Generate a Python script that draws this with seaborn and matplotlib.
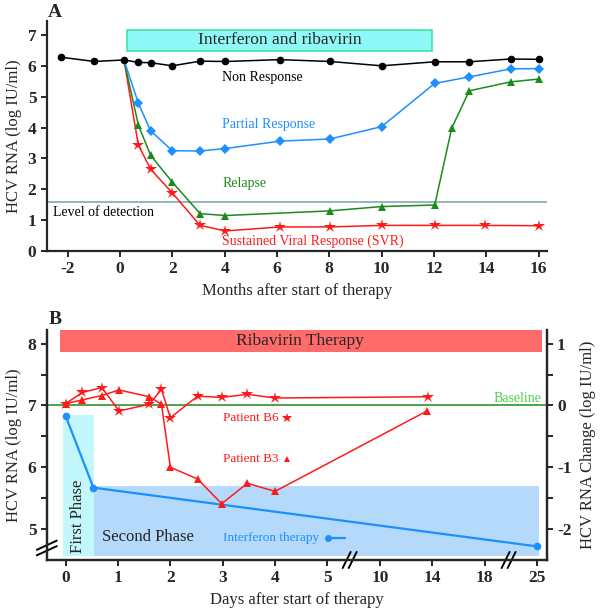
import numpy as np
import matplotlib
matplotlib.use("Agg")
import matplotlib.pyplot as plt
import seaborn as sns

# ---- Panel A data (months after start, log IU/ml) ----
nr_x = [-2.27, -0.98, 0.15, 0.7, 1.17, 2.0, 3.06, 4.03, 6.12, 8.03, 10.0, 12.03, 13.35, 14.93, 16.0]
nr_y = [6.28, 6.14, 6.19, 6.11, 6.10, 6.00, 6.15, 6.14, 6.20, 6.14, 6.00, 6.13, 6.13, 6.22, 6.21]

pr_x = [0.15, 0.7, 1.17, 2.0, 3.06, 4.03, 6.12, 8.03, 10.0, 12.03, 13.35, 14.93, 16.0]
pr_y = [6.19, 4.79, 3.89, 3.25, 3.24, 3.32, 3.56, 3.63, 4.03, 5.43, 5.64, 5.90, 5.91]

rl_x = [0.15, 0.7, 1.17, 2.0, 3.06, 4.03, 8.03, 10.0, 12.03, 12.68, 13.35, 14.93, 16.0]
rl_y = [6.19, 4.08, 3.10, 2.23, 1.21, 1.15, 1.30, 1.44, 1.49, 3.98, 5.19, 5.48, 5.57]

svr_x = [0.15, 0.7, 1.17, 2.0, 3.06, 4.03, 6.12, 8.03, 10.0, 12.03, 13.97, 16.0]
svr_y = [6.19, 3.43, 2.65, 1.88, 0.83, 0.65, 0.78, 0.78, 0.83, 0.83, 0.83, 0.82]

detect_level = 1.59

# ---- Panel B data (days after start, log IU/ml) ----
b6_x = [0, 0.32, 0.69, 1.02, 1.6, 1.83, 2.0, 2.52, 2.98, 3.47, 4.0, 13.7]
b6_y = [7.03, 7.21, 7.29, 6.91, 7.02, 7.26, 6.80, 7.15, 7.13, 7.18, 7.12, 7.14]

b3_x = [0, 0.32, 0.69, 1.02, 1.6, 1.83, 2.0, 2.52, 2.98, 3.47, 4.0, 13.6]
b3_y = [7.03, 7.09, 7.16, 7.25, 7.14, 7.02, 6.00, 5.81, 5.41, 5.74, 5.61, 6.91]

ifn_x = [0, 0.53, 25]
ifn_y = [6.83, 5.67, 4.72]

baseline = 7.0

# broken day axis: 0..5 linear, then 10, 14, 18, 25 one step each
day_knots = [-5, 0, 5, 10, 14, 18, 25, 32]
pos_knots = [-5, 0, 5, 6, 7, 8, 9, 10]
day_ticks = [0, 1, 2, 3, 4, 5, 10, 14, 18, 25]

RED = "#ff1a1a"
BLUE = "#1e8fff"
GREEN = "#1b8c1b"

sns.set_theme(style="ticks")
plt.rcParams["font.family"] = ["Liberation Serif", "DejaVu Serif"]
plt.rcParams["axes.linewidth"] = 1.6
plt.rcParams["xtick.major.width"] = 1.4
plt.rcParams["ytick.major.width"] = 1.4
plt.rcParams["ytick.minor.width"] = 1.4
plt.rcParams["xtick.major.size"] = 4
plt.rcParams["ytick.major.size"] = 4
plt.rcParams["ytick.minor.size"] = 4

TICKFONT = dict(fontweight="bold", fontsize=12.5)

fig = plt.figure(figsize=(6, 6.1), dpi=100)

# ================= Panel A =================
axA = fig.add_axes([0.078, 0.5885, 0.834, 0.377])

sns.lineplot(x=nr_x, y=nr_y, ax=axA, color="black", marker="o", markersize=5.5,
             markeredgewidth=0, lw=1.1, estimator=None, sort=False, zorder=6)
sns.lineplot(x=pr_x, y=pr_y, ax=axA, color=BLUE, marker="D", markersize=5.5,
             markeredgewidth=0, lw=1.1, markevery=list(range(1, len(pr_x))),
             estimator=None, sort=False, zorder=5)
sns.lineplot(x=rl_x, y=rl_y, ax=axA, color=GREEN, marker="^", markersize=6,
             markeredgewidth=0, lw=1.1, markevery=list(range(1, len(rl_x))),
             estimator=None, sort=False, zorder=4)
sns.lineplot(x=svr_x, y=svr_y, ax=axA, color=RED, marker="*", markersize=9,
             markeredgewidth=0, lw=1.1, markevery=list(range(1, len(svr_x))),
             estimator=None, sort=False, zorder=3)

axA.axhline(detect_level, color="#7eaab2", lw=1.2, zorder=1)

axA.set_xlim(-2.8, 16.33)
axA.set_ylim(0, 7.45)
xt = list(range(-2, 17, 2))
axA.set_xticks(xt)
axA.set_xticklabels([str(v) for v in xt], **TICKFONT)
axA.set_yticks(range(0, 8))
axA.set_yticklabels([str(v) for v in range(0, 8)], **TICKFONT)
sns.despine(ax=axA)

axA.add_patch(plt.Rectangle((0.27, 6.48), 11.65, 0.69, facecolor="#8ef9f7",
                            edgecolor="#3fe3a8", lw=1.2, zorder=2))
axA.text(6.1, 6.83, "Interferon and ribavirin", ha="center", va="center", fontsize=12.5)

axA.text(3.9, 5.62, "Non Response", color="black", fontsize=10, va="center")
axA.text(3.9, 4.11, "Partial Response", color=BLUE, fontsize=10, va="center")
axA.text(3.9, 2.2, "Relapse", color=GREEN, fontsize=10, va="center")
axA.text(3.9, 0.32, "Sustained Viral Response (SVR)", color=RED, fontsize=10, va="center")
axA.text(-2.56, 1.26, "Level of detection", color="black", fontsize=10, va="center")

axA.set_xlabel("Months after start of therapy", fontsize=12)
axA.set_ylabel("HCV RNA (log IU/ml)", fontsize=12)
fig.text(0.092, 0.98, "A", fontsize=14, fontweight="bold", va="center", ha="center")

# ================= Panel B =================
axB = fig.add_axes([0.078, 0.082, 0.833, 0.377])
axB.set_xscale("function", functions=(lambda d: np.interp(d, day_knots, pos_knots),
                                      lambda p: np.interp(p, pos_knots, day_knots)))

axB.add_patch(plt.Rectangle((-0.11, 7.87), 25.81, 0.35, facecolor="#ff6b6b",
                            edgecolor="none", zorder=1))
axB.text(0.506, 8.045, "Ribavirin Therapy", ha="center", va="center", fontsize=12.5,
         transform=axB.get_yaxis_transform())
axB.add_patch(plt.Rectangle((-0.05, 4.56), 0.6, 2.28, facecolor="#c2f8fb",
                            edgecolor="none", zorder=1))
axB.add_patch(plt.Rectangle((0.55, 4.56), 24.8, 1.13, facecolor="#b4d9fb",
                            edgecolor="none", zorder=1))
axB.text(0.23, 5.2, "First Phase", rotation=90, ha="center", va="center", fontsize=12)
axB.text(0.7, 4.87, "Second Phase", ha="left", va="center", fontsize=12)

axB.axhline(baseline, color=GREEN, lw=1.1, zorder=2)
axB.text(25.6, 7.12, "Baseline", color="#4ad24a", ha="right", va="center", fontsize=10)

sns.lineplot(x=b3_x, y=b3_y, ax=axB, color=RED, marker="^", markersize=6,
             markeredgewidth=0, lw=1.1, estimator=None, sort=False, zorder=4)
sns.lineplot(x=b6_x, y=b6_y, ax=axB, color=RED, marker="*", markersize=9,
             markeredgewidth=0, lw=1.1, estimator=None, sort=False, zorder=5)
sns.lineplot(x=ifn_x, y=ifn_y, ax=axB, color=BLUE, marker="o", markersize=5.5,
             markeredgewidth=0, lw=1.6, estimator=None, sort=False, zorder=3)

axB.text(3.0, 6.8, "Patient B6", color=RED, fontsize=9.5, va="center")
axB.plot([4.22], [6.8], marker="*", color=RED, markersize=7, markeredgewidth=0)
axB.text(3.0, 6.13, "Patient B3", color=RED, fontsize=9.5, va="center")
axB.plot([4.22], [6.13], marker="^", color=RED, markersize=5, markeredgewidth=0)
axB.text(3.0, 4.85, "Interferon therapy", color=BLUE, fontsize=9.5, va="center")
axB.plot([5.03, 6.7], [4.85, 4.85], color=BLUE, lw=1.6, marker="o", markersize=5,
         markeredgewidth=0, markevery=[0])

axB.set_xlim(-0.36, 26.3)
axB.set_ylim(4.5, 8.22)
axB.set_xticks(day_ticks)
axB.set_xticklabels([str(d) for d in day_ticks], **TICKFONT)
axB.xaxis.set_minor_locator(matplotlib.ticker.NullLocator())
axB.set_yticks([5, 6, 7, 8])
axB.set_yticklabels(["5", "6", "7", "8"], **TICKFONT)
axB.set_yticks([5.5, 6.5, 7.5], minor=True)
axB.spines["top"].set_visible(False)

axR = axB.twinx()
axR.set_ylim(4.5 - baseline, 8.22 - baseline)
axR.set_yticks([-2, -1, 0, 1])
axR.set_yticklabels(["-2", "-1", "0", "1"], **TICKFONT)
axR.set_yticks([-1.5, -0.5, 0.5], minor=True)
axR.spines["top"].set_visible(False)
axR.spines["right"].set_linewidth(1.6)
axR.set_ylabel("HCV RNA Change (log IU/ml)", fontsize=12, rotation=90, labelpad=6)

axB.set_xlabel("Days after start of therapy", fontsize=12)
axB.set_ylabel("HCV RNA (log IU/ml)", fontsize=12)

# axis break marks
trans = axB.transAxes
for bx in [(350 - 47) / 500.0, (509 - 47) / 500.0]:
    for dx in (-0.006, 0.006):
        axB.plot([bx + dx - 0.008, bx + dx + 0.008], [-0.035, 0.035], color="black",
                 lw=1.4, transform=trans, clip_on=False, zorder=10)
by = (560 - 548) / 230.0
for dy in (-0.012, 0.012):
    axB.plot([-0.02, 0.02], [by + dy - 0.02, by + dy + 0.02], color="black",
             lw=1.4, transform=trans, clip_on=False, zorder=10)

fig.text(0.092, 0.477, "B", fontsize=14, fontweight="bold", va="center", ha="center")

fig.savefig("out.png", dpi=100)
